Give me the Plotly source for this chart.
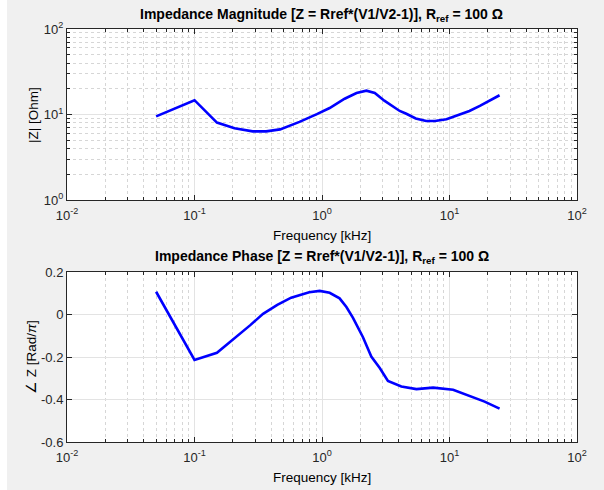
import plotly.graph_objects as go

# Impedance magnitude
freq_mag = [0.05, 0.1, 0.15, 0.206, 0.286, 0.365, 0.469, 0.666, 0.912, 1.148, 1.506, 1.866,
            2.229, 2.594, 3.083, 3.402, 4.068, 4.587, 5.435, 6.56, 7.69, 9.47, 12.02, 14.33,
            17.3, 20.15, 24.7]
z_mag = [9.5, 14.7, 8.05, 6.9, 6.35, 6.35, 6.7, 8.2, 10.1, 11.9, 15.3, 17.8,
         19.0, 17.9, 14.5, 13.2, 11.0, 10.2, 9.0, 8.4, 8.4, 8.8, 10.0, 11.0, 12.6, 14.3, 16.8]

# Impedance phase [rad/pi]
freq_ph = [0.05, 0.1, 0.15, 0.212, 0.274, 0.345, 0.446, 0.573, 0.666, 0.794, 0.959, 1.148,
           1.374, 1.554, 1.746, 2.096, 2.435, 2.838, 3.29, 3.818, 4.19, 5.5, 7.44, 10.67,
           14.45, 18.85, 24.7]
z_phase = [0.107, -0.214, -0.18, -0.107, -0.05, 0.003, 0.045, 0.079, 0.092, 0.105, 0.111,
           0.102, 0.076, 0.035, -0.015, -0.107, -0.198, -0.252, -0.313, -0.328, -0.339, -0.351,
           -0.344, -0.354, -0.382, -0.41, -0.443]

x_ticks = [0.01, 0.1, 1, 10, 100]
x_ticktext = ["10<sup>-2</sup>", "10<sup>-1</sup>", "10<sup>0</sup>", "10<sup>1</sup>", "10<sup>2</sup>"]
mag_ticks = [1, 10, 100]
mag_ticktext = ["10<sup>0</sup>", "10<sup>1</sup>", "10<sup>2</sup>"]
ph_ticks = [-0.6, -0.4, -0.2, 0, 0.2]
ph_ticktext = ["-0.6", "-0.4", "-0.2", "0", "0.2"]

W, H = 604, 490
FONT = "Liberation Sans, Arial, Helvetica, sans-serif"
AXC = "#262626"
GRID = "#e3e3e3"
MINOR_GRID = "#d6d6d6"

def px_x(p):
    return p / W

def px_y(p):
    return 1 - p / H

x_minor = [m * 10 ** d for d in range(-2, 2) for m in range(2, 10)]
y_minor = [m * 10 ** d for d in range(0, 2) for m in range(2, 10)]

fig = go.Figure()
fig.add_trace(go.Scatter(x=freq_mag, y=z_mag, mode="lines", line=dict(color="#0000ff", width=2.6),
                         xaxis="x", yaxis="y", showlegend=False))
fig.add_trace(go.Scatter(x=freq_ph, y=z_phase, mode="lines", line=dict(color="#0000ff", width=2.6),
                         xaxis="x2", yaxis="y2", showlegend=False))

x_left, x_right = 67, 577
common_x = dict(
    type="log", range=[-2, 2], tickmode="array", tickvals=x_ticks, ticktext=x_ticktext,
    showline=True, linecolor=AXC, linewidth=1, mirror="ticks", automargin=False,
    ticks="inside", ticklen=5, tickcolor=AXC, showgrid=True, gridcolor=GRID, gridwidth=1,
    zeroline=False, tickfont=dict(family=FONT, size=13, color=AXC), ticklabelstandoff=3,
    minor=dict(tickmode="array", tickvals=x_minor, ticks="inside", ticklen=3, tickcolor=AXC,
               showgrid=True, gridcolor=MINOR_GRID, griddash="dot", gridwidth=1),
    domain=[px_x(x_left), px_x(x_right)],
)

fig.update_layout(
    width=W, height=H, autosize=False,
    margin=dict(l=0, r=0, t=0, b=0, pad=0),
    paper_bgcolor="#f0f0f0", plot_bgcolor="white",
    font=dict(family=FONT, size=13, color=AXC),
    xaxis=dict(common_x, anchor="y"),
    yaxis=dict(
        type="log", range=[0, 2], tickmode="array", tickvals=mag_ticks, ticktext=mag_ticktext,
        showline=True, linecolor=AXC, linewidth=1, mirror="ticks", automargin=False,
        ticks="inside", ticklen=5, tickcolor=AXC, showgrid=True, gridcolor=GRID,
        zeroline=False, tickfont=dict(family=FONT, size=13, color=AXC),
        minor=dict(tickmode="array", tickvals=y_minor, ticks="inside", ticklen=3, tickcolor=AXC,
                   showgrid=True, gridcolor=MINOR_GRID, griddash="dot", gridwidth=1),
        domain=[px_y(200), px_y(29)], anchor="x",
    ),
    xaxis2=dict(common_x, anchor="y2"),
    yaxis2=dict(
        range=[-0.6, 0.2], tickmode="array", tickvals=ph_ticks, ticktext=ph_ticktext,
        showline=True, linecolor=AXC, linewidth=1, mirror="ticks", automargin=False,
        ticks="inside", ticklen=5, tickcolor=AXC, showgrid=True, gridcolor=GRID,
        zeroline=False, tickfont=dict(family=FONT, size=13, color=AXC),
        domain=[px_y(442), px_y(272)], anchor="x2",
    ),
)

xc = px_x((x_left + x_right) / 2)
annotations = [
    dict(text="<b>Impedance Magnitude [Z = Rref*(V1/V2-1)], R<sub>ref</sub> = 100 Ω</b>",
         x=xc, y=px_y(15), font=dict(size=14)),
    dict(text="<b>Impedance Phase [Z = Rref*(V1/V2-1)], R<sub>ref</sub> = 100 Ω</b>",
         x=xc, y=px_y(257), font=dict(size=14)),
    dict(text="Frequency [kHz]", x=xc, y=px_y(235), font=dict(size=13.5)),
    dict(text="Frequency [kHz]", x=xc, y=px_y(477), font=dict(size=13.5)),
    dict(text="|Z| [Ohm]", x=px_x(33), y=px_y(115), textangle=-90, font=dict(size=13.5)),
    dict(text="∠ Z [Rad/<i>π</i>]", x=px_x(31), y=px_y(357), textangle=-90, font=dict(size=13.5)),
]
for a in annotations:
    a.update(xref="paper", yref="paper", showarrow=False, xanchor="center", yanchor="middle")
    a["font"].update(family=FONT, color="#000000")
fig.update_layout(annotations=annotations)

# white margin strip at the left edge of the screenshot
fig.add_shape(type="rect", xref="paper", yref="paper", x0=0, x1=px_x(7), y0=0, y1=1,
              fillcolor="white", line_width=0, layer="below")

fig.write_html("out.html", config={"displayModeBar": False},
               post_script="document.body.style.margin='0';")
